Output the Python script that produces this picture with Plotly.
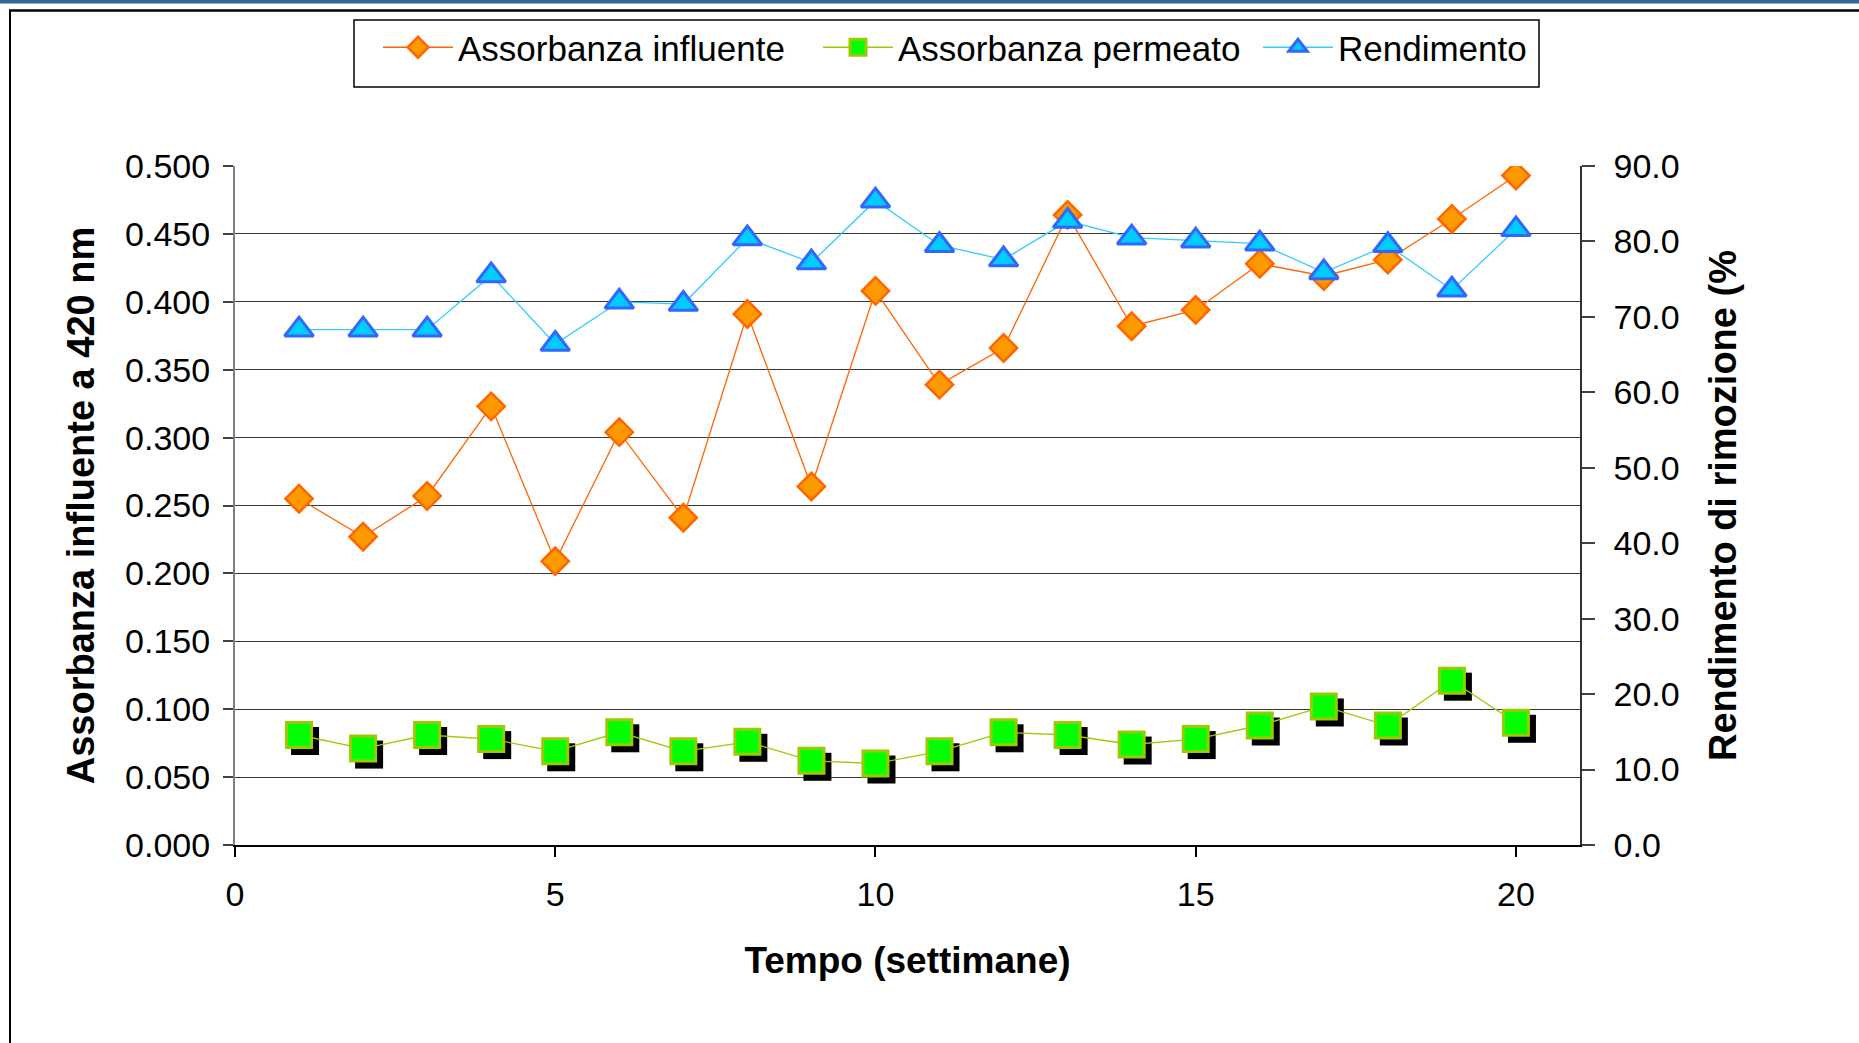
import plotly.graph_objects as go

# ---------------- data ----------------
settimane = list(range(1, 21))
assorbanza_influente = [0.255, 0.227, 0.257, 0.323, 0.209, 0.304, 0.241, 0.391, 0.264, 0.408,
                        0.339, 0.366, 0.464, 0.382, 0.394, 0.428, 0.419, 0.431, 0.461, 0.493]
assorbanza_permeato = [0.081, 0.071, 0.081, 0.078, 0.069, 0.083, 0.069, 0.076, 0.062, 0.060,
                       0.069, 0.083, 0.081, 0.074, 0.078, 0.088, 0.102, 0.088, 0.121, 0.090]
rendimento = [68.3, 68.3, 68.3, 75.5, 66.4, 72.0, 71.7, 80.4, 77.2, 85.4,
              79.5, 77.6, 82.7, 80.5, 80.1, 79.7, 75.9, 79.5, 73.6, 81.6]

x_ticks = [0, 5, 10, 15, 20]
left_ticks = [0.0, 0.05, 0.10, 0.15, 0.20, 0.25, 0.30, 0.35, 0.40, 0.45, 0.50]
right_ticks = [0, 10, 20, 30, 40, 50, 60, 70, 80, 90]

# ---------------- geometry / style ----------------
W, H = 1859, 1043
L, R, T, B = 235, 1580, 166, 845          # plot area in pixels
X_RANGE = [0, 21]
Y_RANGE = [0, 0.5]
Y2_RANGE = [0, 90]
SHADOW_PX = 6

def px_x(p):
    return (p - L) / (R - L)

def px_y(p):
    return (B - p) / (B - T)

dx = SHADOW_PX * (X_RANGE[1] - X_RANGE[0]) / (R - L)
dy = SHADOW_PX * (Y_RANGE[1] - Y_RANGE[0]) / (B - T)

TICK_FONT = dict(family="Arial, Liberation Sans, sans-serif", size=34, color="black")
TITLE_FONT = dict(family="Arial, Liberation Sans, sans-serif", size=38, color="black")

fig = go.Figure()

fig.add_trace(go.Scatter(
    x=settimane, y=assorbanza_influente, name="Assorbanza influente",
    mode="lines+markers", xaxis="x", yaxis="y",
    line=dict(color="#FF6600", width=1.3),
    marker=dict(symbol="diamond", size=21, color="#FF9900",
                line=dict(color="#FF6600", width=2.5)),
))

# black drop shadow of the permeate squares (same data, axes shifted by a few pixels)
fig.add_trace(go.Scatter(
    x=settimane, y=assorbanza_permeato, name="ombra", showlegend=False,
    mode="markers", xaxis="x2", yaxis="y3", hoverinfo="skip",
    marker=dict(symbol="square", size=28, color="black", line=dict(width=0)),
))

fig.add_trace(go.Scatter(
    x=settimane, y=assorbanza_permeato, name="Assorbanza permeato",
    mode="lines+markers", xaxis="x3", yaxis="y4",
    line=dict(color="#99CC00", width=1.3),
    marker=dict(symbol="square", size=25, color="#00FF00",
                line=dict(color="#99CC00", width=3)),
))

fig.add_trace(go.Scatter(
    x=settimane, y=rendimento, name="Rendimento",
    mode="lines+markers", xaxis="x", yaxis="y2",
    line=dict(color="#33CCFF", width=1.3),
    marker=dict(symbol="triangle-up", size=25, color="#00CCFF",
                line=dict(color="#3366FF", width=3)),
))

shapes = [
    # slide decorations
    dict(type="rect", xref="paper", yref="paper",
         x0=px_x(0), x1=px_x(W), y0=px_y(0), y1=px_y(3.5),
         fillcolor="#2E6A94", line=dict(width=0), layer="above"),
    dict(type="line", xref="paper", yref="paper",
         x0=px_x(9), x1=px_x(W), y0=px_y(10.5), y1=px_y(10.5),
         line=dict(color="black", width=2.5), layer="above"),
    dict(type="line", xref="paper", yref="paper",
         x0=px_x(10), x1=px_x(10), y0=px_y(10), y1=px_y(H),
         line=dict(color="black", width=2), layer="above"),
    # legend frame
    dict(type="rect", xref="paper", yref="paper",
         x0=px_x(354), x1=px_x(1539), y0=px_y(20), y1=px_y(87),
         fillcolor="rgba(0,0,0,0)", line=dict(color="black", width=1.5), layer="above"),
]

fig.update_layout(
    width=W, height=H,
    margin=dict(l=L, r=W - R, t=T, b=H - B, pad=0),
    paper_bgcolor="white", plot_bgcolor="white",
    font=dict(family="Arial, Liberation Sans, sans-serif", color="black"),
    showlegend=True,
    legend=dict(
        orientation="h", x=px_x(378), xanchor="left", y=px_y(18), yanchor="top",
        font=dict(family="Arial, Liberation Sans, sans-serif", size=35, color="black"),
        borderwidth=0, bgcolor="rgba(0,0,0,0)",
        entrywidth=355, itemwidth=70,
        traceorder="normal",
    ),
    xaxis=dict(
        range=X_RANGE, tickvals=x_ticks, ticktext=[str(v) for v in x_ticks],
        showgrid=False, zeroline=False,
        showline=True, linecolor="black", linewidth=2,
        ticks="outside", ticklen=10, tickwidth=1.5, tickcolor="black",
        tickfont=TICK_FONT, ticklabelstandoff=8,
        title=dict(text="<b>Tempo (settimane)</b>",
                   font=dict(family="Arial, Liberation Sans, sans-serif", size=37, color="black"),
                   standoff=35),
        anchor="y",
    ),
    yaxis=dict(
        range=Y_RANGE, tickvals=left_ticks, tickformat=".3f",
        showgrid=True, gridcolor="#383838", gridwidth=1.3,
        zeroline=False,
        showline=True, linecolor="#808080", linewidth=2,
        ticks="outside", ticklen=10, tickwidth=1.5, tickcolor="#404040",
        tickfont=TICK_FONT, ticklabelstandoff=6,
        title=dict(text="<b>Assorbanza influente a 420 nm</b>", font=TITLE_FONT, standoff=19),
        anchor="x",
    ),
    yaxis2=dict(
        range=Y2_RANGE, tickvals=right_ticks, tickformat=".1f",
        overlaying="y", side="right", anchor="x",
        showgrid=False, zeroline=False,
        showline=True, linecolor="#303030", linewidth=1.5,
        ticks="outside", ticklen=13, tickwidth=1.5, tickcolor="#404040",
        tickfont=TICK_FONT, ticklabelstandoff=12,
        title=dict(text="<b>Rendimento di rimozione (%</b>", font=TITLE_FONT, standoff=31),
    ),
    # inner half of the crossing ticks on the right axis
    yaxis5=dict(
        range=Y2_RANGE, tickvals=right_ticks,
        overlaying="y", side="right", anchor="x",
        showgrid=False, zeroline=False, showline=False,
        ticks="inside", ticklen=13, tickwidth=1.5, tickcolor="#404040",
        showticklabels=False,
    ),
    # shifted axes for the shadow
    xaxis2=dict(range=[X_RANGE[0] - dx, X_RANGE[1] - dx], overlaying="x", anchor="y3", visible=False),
    yaxis3=dict(range=[Y_RANGE[0] + dy, Y_RANGE[1] + dy], overlaying="y", anchor="x2", visible=False),
    # identical axes drawing the permeate series above the shadow
    xaxis3=dict(range=X_RANGE, overlaying="x", anchor="y4", visible=False),
    yaxis4=dict(range=Y_RANGE, overlaying="y", anchor="x3", visible=False),
    shapes=shapes,
)

fig.write_html("out.html")
